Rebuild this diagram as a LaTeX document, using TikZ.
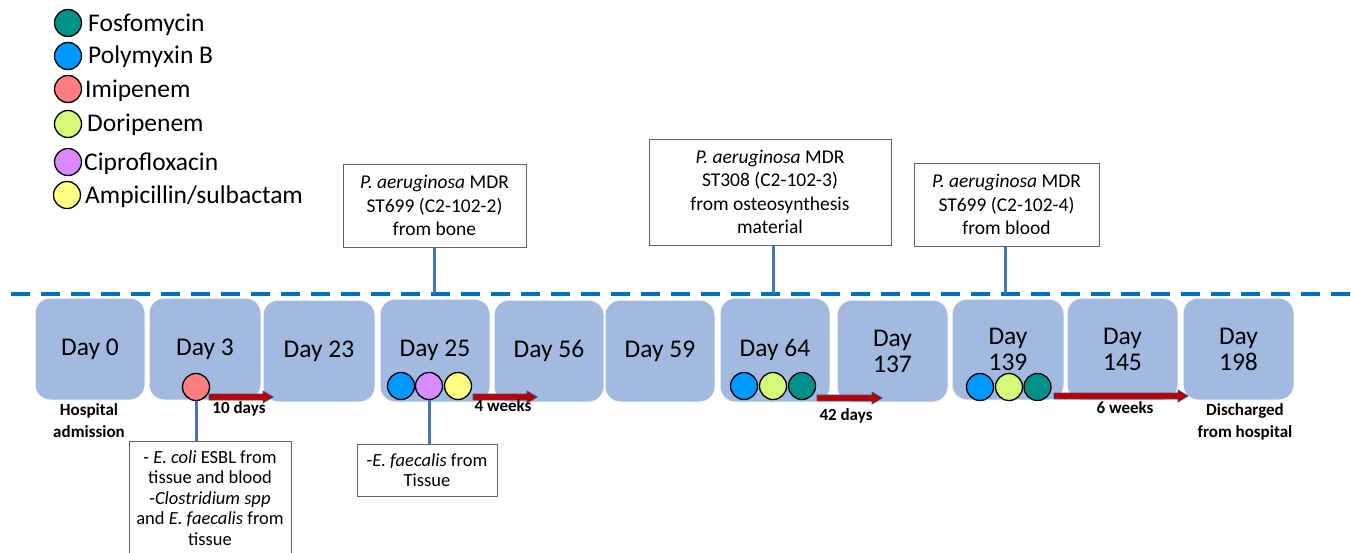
\documentclass[tikz,border=0pt]{standalone}
\usepackage{fontspec}
\setmainfont{Carlito}
\definecolor{boxfill}{RGB}{162,185,224}
\definecolor{dashblue}{RGB}{0,112,192}
\definecolor{connblue}{RGB}{68,114,196}
\definecolor{fosfo}{RGB}{0,145,137}
\definecolor{polym}{RGB}{0,153,255}
\definecolor{imip}{RGB}{255,124,128}
\definecolor{dorip}{RGB}{212,250,122}
\definecolor{cipro}{RGB}{217,138,255}
\definecolor{ampi}{RGB}{255,255,128}
\definecolor{arrred}{RGB}{192,0,0}
\definecolor{arrblue}{RGB}{47,82,143}
\definecolor{noteborder}{RGB}{90,100,120}
\tikzset{
  daybox/.style={draw=white, line width=1, fill=boxfill, rounded corners=15, inner sep=0, align=center, font=\fontsize{25.5}{26}\selectfont},
  drug/.style={circle, draw=black, line width=1.3, minimum size=27, inner sep=0},
  note/.style={draw=noteborder, line width=1, fill=white, inner sep=0, align=center},
  topnote/.style={note, font=\fontsize{19.5}{23.5}\selectfont},
  botnote/.style={note, font=\fontsize{18.5}{20.5}\selectfont},
  lbl/.style={font=\bfseries\fontsize{17}{21.5}\selectfont, align=center, inner sep=0},
  legtxt/.style={anchor=base west, inner sep=0, font=\fontsize{25.5}{28}\selectfont},
  conn/.style={draw=connblue, line width=3},
  durarr/.style={fill=arrred, draw=arrblue, line width=0.8},
}
\newcommand\durarrow[3]{\draw[durarr] (#1,#3-3) -- (#2-10,#3-3) -- (#2-10,#3-6) -- (#2,#3) -- (#2-10,#3+6) -- (#2-10,#3+3) -- (#1,#3+3) -- cycle;}
\begin{document}
\begin{tikzpicture}[x=1pt,y=-1pt]
\useasboundingbox[fill=white] (0,0) rectangle (1351,552);

% legend
\node[drug, fill=fosfo] (lg1) at (68,23) {};
\node[legtxt] (lt1) at (88,31) {Fosfomycin};
\node[drug, fill=polym] (lg2) at (68,56) {};
\node[legtxt] (lt2) at (88,63.5) {Polymyxin B};
\node[drug, fill=imip] (lg3) at (68,89) {};
\node[legtxt] (lt3) at (85,97) {Imipenem};
\node[drug, fill=dorip] (lg4) at (68,124) {};
\node[legtxt] (lt4) at (87,131) {Doripenem};
\node[drug, fill=cipro] (lg5) at (68,162) {};
\node[legtxt] (lt5) at (84,170) {Ciprofloxacin};
\node[drug, fill=ampi] (lg6) at (67,195) {};
\node[legtxt] (lt6) at (85,203) {Ampicillin/sulbactam};

% dashed timeline
\coordinate (dl) at (11,294);
\coordinate (dr) at (1351,294);
\draw[dashblue, line width=4, dash pattern=on 19 off 11] (dl) -- (dr);

% day boxes
\node[daybox, minimum width=110, minimum height=102] (d0) at (90,349) {Day 0};
\node[daybox, minimum width=112, minimum height=102] (d3) at (205,349) {Day 3};
\node[daybox, minimum width=112, minimum height=102] (d23) at (319,351) {Day 23};
\node[daybox, minimum width=110, minimum height=103] (d25) at (435,350.5) {Day 25};
\node[daybox, minimum width=110, minimum height=102] (d56) at (549,351) {Day 56};
\node[daybox, minimum width=110, minimum height=102] (d59) at (660,351) {Day 59};
\node[daybox, minimum width=110, minimum height=104] (d64) at (775,350) {Day 64};
\node[daybox, minimum width=111, minimum height=102] (d137) at (892.5,351) {Day\\137};
\node[daybox, minimum width=112, minimum height=101] (d139) at (1008,349.5) {Day\\139};
\node[daybox, minimum width=111, minimum height=102] (d145) at (1122.5,349) {Day\\145};
\node[daybox, minimum width=111, minimum height=102] (d198) at (1238.5,349) {Day\\198};

% duration arrows
\durarrow{209}{273}{397}
\durarrow{473}{537}{397}
\durarrow{817}{882}{398}
\durarrow{1054}{1188}{396}

% drug circles on boxes
\node[drug, fill=imip] (c3a) at (196,387) {};
\node[drug, fill=polym] (c25a) at (401,386) {};
\node[drug, fill=cipro] (c25b) at (429,386) {};
\node[drug, fill=ampi] (c25c) at (458,386) {};
\node[drug, fill=polym] (c64a) at (744,386) {};
\node[drug, fill=dorip] (c64b) at (773,386) {};
\node[drug, fill=fosfo] (c64c) at (802,386) {};
\node[drug, fill=polym] (c139a) at (980,387) {};
\node[drug, fill=dorip] (c139b) at (1009,387) {};
\node[drug, fill=fosfo] (c139c) at (1037.5,387) {};

% labels
\node[lbl] (l0) at (89,420.5) {Hospital\\admission};
\node[lbl] (l3) at (239,409) {10 days};
\node[lbl] (l25) at (503,406) {4 weeks};
\node[lbl] (l64) at (846,416) {42 days};
\node[lbl] (l139) at (1125,408) {6 weeks};
\node[lbl] (l198) at (1245,422) {Discharged\\from hospital};

% top notes
\node[topnote, minimum width=183, minimum height=83] (n25) at (434.5,205.5) {\textit{P. aeruginosa} MDR\\ST699 (C2-102-2)\\from bone};
\node[topnote, minimum width=242, minimum height=106] (n64) at (770,192) {\textit{P. aeruginosa} MDR\\ST308 (C2-102-3)\\from osteosynthesis\\material};
\node[topnote, minimum width=185, minimum height=83] (n139) at (1006.5,204.5) {\textit{P. aeruginosa} MDR\\ST699 (C2-102-4)\\from blood};
\draw[conn] (n25.south) -- (n25.south |- dl);
\draw[conn] ([xshift=3]n64.south) -- ([xshift=3]n64.south |- dl);
\draw[conn] ([xshift=-1.5]n139.south) -- ([xshift=-1.5]n139.south |- dl);

% bottom notes
\node[botnote, minimum width=162, minimum height=114] (n3) at (210,498) {- \textit{E. coli} ESBL from\\tissue and blood\\-\textit{Clostridium spp}\\and \textit{E. faecalis} from\\tissue};
\node[botnote, minimum width=140, minimum height=52] (n25b) at (427,470) {-\textit{E. faecalis} from\\Tissue};
\draw[conn] (c3a.south) -- (c3a.south |- n3.north);
\draw[conn] (c25b.south) -- (c25b.south |- n25b.north);
\end{tikzpicture}
\end{document}
